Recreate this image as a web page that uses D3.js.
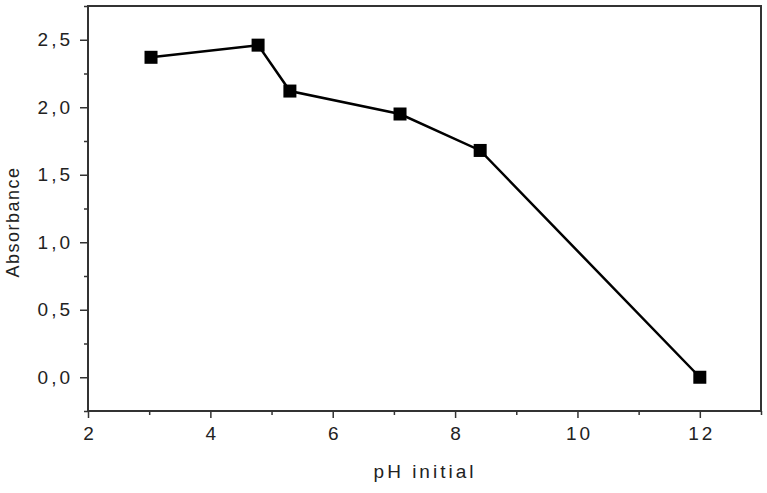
<!DOCTYPE html>
<html>
<head>
<meta charset="utf-8">
<script src="https://cdn.jsdelivr.net/npm/d3@7"></script>
<style>
  body { margin: 0; background: #fff; }
  text { font-family: "Liberation Sans", Arial, sans-serif; fill: #222; }
</style>
</head>
<body>
<svg id="chart" width="767" height="493"></svg>
<script>
// data
var phValues = [3.03, 4.78, 5.30, 7.10, 8.41, 12.0];
var absorbance = [2.37, 2.46, 2.12, 1.95, 1.68, 0.0];
var xTicks = [2, 4, 6, 8, 10, 12];
var yTicks = [0, 0.5, 1.0, 1.5, 2.0, 2.5];

var margins = {left: 88, right: 6, top: 6, bottom: 82};
var width = 767 - margins.left - margins.right;
var height = 493 - margins.top - margins.bottom;

var svg = d3.select("#chart");
var g = svg.append("g")
  .attr("transform", "translate(" + margins.left + "," + margins.top + ")");

var x = d3.scaleLinear().domain([2, 13]).range([0, width]);
var y = d3.scaleLinear().domain([-0.25, 2.75]).range([height, 0]);

var fmt = function(d){ return d3.format(".1f")(d).replace(".", ","); };

// minor ticks first
var xMinor = d3.axisBottom(x).tickValues([3, 5, 7, 9, 11, 13]).tickSize(4).tickFormat("");
g.append("g").attr("class", "xMinor")
  .attr("transform", "translate(0," + height + ")").call(xMinor);
var yMinor = d3.axisLeft(y).tickValues([-0.25, 0.25, 0.75, 1.25, 1.75, 2.25, 2.75]).tickSize(4).tickFormat("");
g.append("g").attr("class", "yMinor").call(yMinor);

var xAxis = d3.axisBottom(x).tickValues(xTicks).tickSize(7).tickPadding(9).tickFormat(d3.format("d"));
g.append("g").attr("class", "xAxis")
  .attr("transform", "translate(0," + height + ")").call(xAxis);
var yAxis = d3.axisLeft(y).tickValues(yTicks).tickSize(8).tickPadding(7).tickFormat(fmt);
g.append("g").attr("class", "yAxis").call(yAxis);

g.selectAll(".domain").remove();
g.selectAll(".tick line").attr("stroke", "#333").attr("stroke-width", 1.5);
g.selectAll(".tick text").style("font-size", "19px").attr("fill", "#222")
  .style("letter-spacing", "3px");
g.selectAll(".xAxis .tick text").attr("dx", "1.5px");

// frame
g.append("rect")
  .attr("x", 0).attr("y", 0)
  .attr("width", width).attr("height", height)
  .attr("fill", "none").attr("stroke", "#333").attr("stroke-width", 2);

var pts = phValues.map(function(d, i){ return [d, absorbance[i]]; });
var line = d3.line().x(function(d){ return x(d[0]); }).y(function(d){ return y(d[1]); });

g.append("path").datum(pts)
  .attr("d", line)
  .attr("fill", "none")
  .attr("stroke", "#000")
  .attr("stroke-width", 2.5);

var size = 13;
g.selectAll("rect.pt").data(pts).enter()
  .append("rect").attr("class", "pt")
  .attr("x", function(d){ return x(d[0]) - size/2; })
  .attr("y", function(d){ return y(d[1]) - size/2; })
  .attr("width", size).attr("height", size)
  .attr("fill", "#000");

// axis titles
svg.append("text")
  .attr("x", 425).attr("y", 478)
  .attr("text-anchor", "middle")
  .style("font-size", "19px").style("letter-spacing", "3px")
  .text("pH initial");

svg.append("text")
  .attr("transform", "translate(19," + 222 + ") rotate(-90)")
  .attr("text-anchor", "middle")
  .style("font-size", "18px").style("letter-spacing", "1.5px")
  .text("Absorbance");
</script>
</body>
</html>
